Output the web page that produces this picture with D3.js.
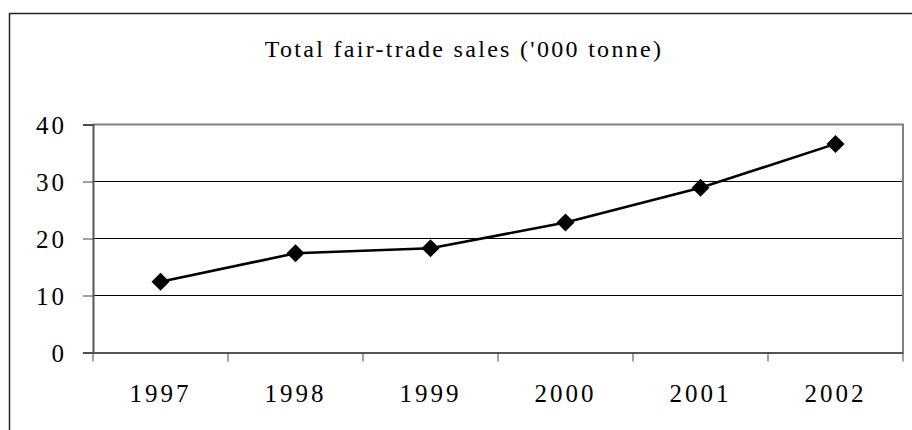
<!DOCTYPE html>
<html>
<head>
<meta charset="utf-8">
<script src="https://cdn.jsdelivr.net/npm/d3@7"></script>
<style>
  body { margin: 0; background: #fff; }
  svg text { font-family: 'Liberation Serif', 'Times New Roman', Times, 'DejaVu Serif', serif !important; }
</style>
</head>
<body>
<script>
// data
var years = ['1997', '1998', '1999', '2000', '2001', '2002'];
var sales = [12.4, 17.4, 18.3, 22.8, 28.9, 36.6];
var yTicks = [0, 10, 20, 30, 40];
var title = "Total fair-trade sales ('000 tonne)";

var w = 912;
var h = 430;
var padLeft = 93, padRight = 903, plotTop = 124.5, plotBottom = 352.5;

var svg = d3.select('body').append('svg')
  .attr('width', w)
  .attr('height', h);

// outer chart frame (right and bottom run off the picture)
svg.append('path')
  .attr('d', 'M9.5,' + h + 'V13.5H' + w)
  .attr('fill', 'none')
  .attr('stroke', '#222')
  .attr('stroke-width', 1.5);

svg.append('text')
  .attr('x', 464)
  .attr('y', 57)
  .attr('text-anchor', 'middle')
  .attr('font-size', 24)
  .attr('letter-spacing', 2.3)
  .attr('fill', '#000')
  .text(title);

var x = d3.scaleBand().domain(years).range([padLeft, padRight]);
var y = d3.scaleLinear().domain([0, 40]).range([plotBottom, plotTop]);

// gridlines
svg.selectAll('line.grid')
  .data(yTicks.slice(1, -1))
  .enter()
  .append('line')
    .attr('class', 'grid')
    .attr('x1', padLeft).attr('x2', padRight)
    .attr('y1', function(d){ return y(d); })
    .attr('y2', function(d){ return y(d); })
    .attr('stroke', '#000')
    .attr('stroke-width', 1);

// plot area border, top and right
svg.append('path')
  .attr('d', 'M' + padLeft + ',' + y(40) + 'H' + padRight + 'V' + plotBottom)
  .attr('fill', 'none')
  .attr('stroke', '#808080')
  .attr('stroke-width', 2);

// y axis
var yAxis = svg.append('g')
  .attr('transform', 'translate(' + padLeft + ',0)')
  .call(d3.axisLeft(y).tickValues(yTicks).tickSize(10).tickPadding(16));
yAxis.attr('font-family', null);
yAxis.select('.domain').attr('stroke', '#555').attr('stroke-width', 2);
yAxis.selectAll('.tick line').attr('stroke', '#444');
yAxis.selectAll('text')
  .attr('font-size', 25)
  .attr('letter-spacing', 3)
  .attr('dy', '0.34em');

// x axis
var xAxis = svg.append('g')
  .attr('transform', 'translate(0,' + plotBottom + ')')
  .call(d3.axisBottom(x).tickSize(0).tickPadding(32));
xAxis.attr('font-family', null);
xAxis.select('.domain').attr('stroke', '#555').attr('stroke-width', 2);
xAxis.selectAll('text')
  .attr('font-size', 25)
  .attr('letter-spacing', 3);

var bounds = years.map(function(d){ return x(d); }).concat([padRight]);
xAxis.selectAll('line.sep')
  .data(bounds)
  .enter()
  .append('line')
    .attr('class', 'sep')
    .attr('x1', function(d){ return d; })
    .attr('x2', function(d){ return d; })
    .attr('y1', 0).attr('y2', 9)
    .attr('stroke', '#444');

// series
var pts = years.map(function(d, i){ return [x(d) + x.bandwidth() / 2, y(sales[i])]; });

svg.append('path')
  .attr('d', d3.line()(pts))
  .attr('fill', 'none')
  .attr('stroke', '#000')
  .attr('stroke-width', 2.6);

svg.selectAll('path.mark')
  .data(pts)
  .enter()
  .append('path')
    .attr('class', 'mark')
    .attr('d', function(d){ return 'M' + d[0] + ',' + (d[1] - 9) + 'l9,9l-9,9l-9,-9z'; })
    .attr('fill', '#000');
</script>
</body>
</html>
